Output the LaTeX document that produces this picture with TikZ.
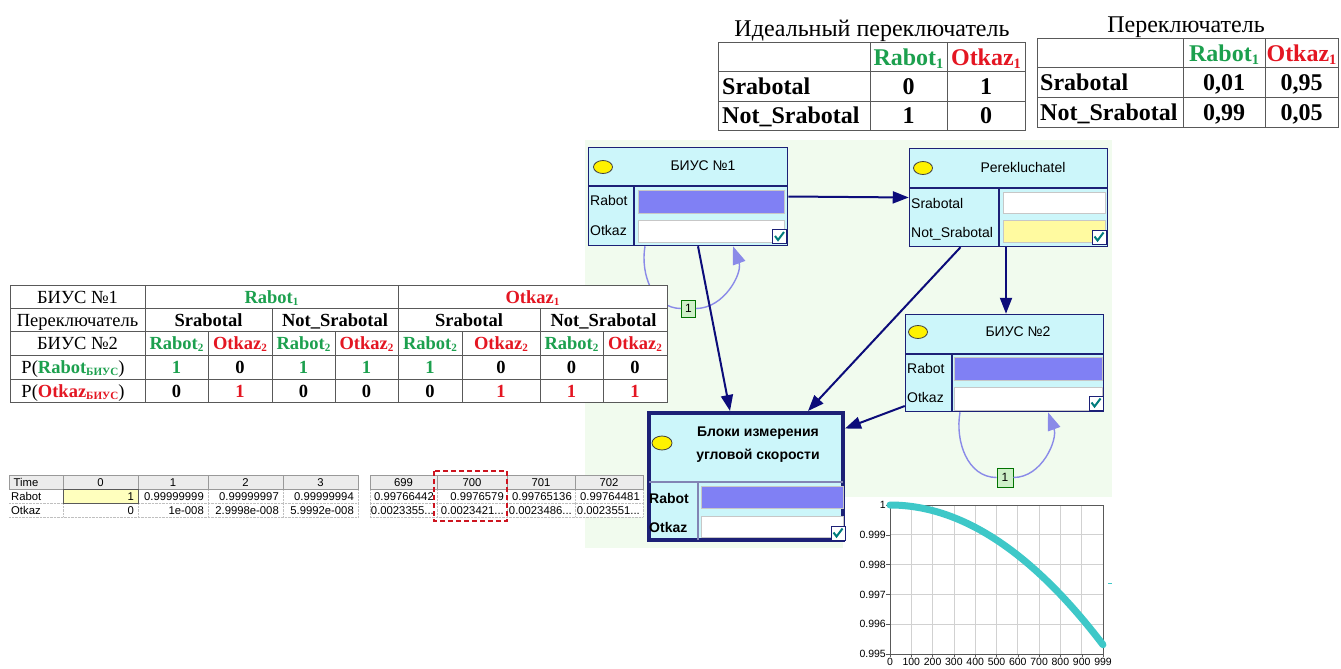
\documentclass[tikz,border=0pt]{standalone}
\usepackage{fontspec}
\setmainfont{Liberation Serif}
\newfontfamily\arialf{Liberation Sans}
\usetikzlibrary{arrows.meta}
\definecolor{okgreen}{RGB}{28,160,78}
\definecolor{failred}{RGB}{228,22,34}
\definecolor{netfill}{RGB}{204,246,250}
\definecolor{netline}{RGB}{28,32,118}
\definecolor{arrowblue}{RGB}{12,12,122}
\definecolor{loopblue}{RGB}{138,138,232}
\definecolor{barfill}{RGB}{128,128,244}
\definecolor{bgmint}{RGB}{241,251,238}
\definecolor{idxfill}{RGB}{206,240,200}
\definecolor{curvecyan}{RGB}{62,200,200}
\definecolor{checkteal}{RGB}{0,124,124}
\definecolor{hdrgray}{RGB}{236,236,236}
\definecolor{cellyellow}{RGB}{255,255,190}
\definecolor{switchyellow}{RGB}{255,250,160}
\newcommand{\idx}[1]{\raisebox{-0.12em}{\scalebox{0.6}{#1}}}
\newcommand{\trail}{...}
\tikzset{tickbox/.pic={
    \draw[netline, fill=white, line width=0.8pt] (-7,-7) rectangle (7,7);
    \draw[checkteal, line width=2pt] (-4.5,-0.5) -- (-1.5,3.5) -- (4.5,-4.5);
}}

\begin{document}
\begin{tikzpicture}[x=1pt, y=-1pt,
    ttitle/.style={font=\fontsize{24}{26}\selectfont, inner sep=0pt, anchor=base},
    bigtab/.style={font=\fontsize{24}{26}\selectfont\bfseries, inner sep=0pt, anchor=base},
    midtab/.style={font=\fontsize{18.5}{20}\selectfont, inner sep=0pt, anchor=base},
    midbold/.style={midtab, font=\fontsize{18.5}{20}\selectfont\bfseries},
    rule/.style={draw=black!65, line width=1pt},
    sheet/.style={font=\arialf\fontsize{11.3}{12}\selectfont, inner sep=0pt, anchor=base},
    netbox/.style={rectangle, draw=netline, fill=netfill, line width=1.5pt, inner sep=0pt},
    netlbl/.style={font=\arialf\fontsize{14}{16}\selectfont, inner sep=0pt, anchor=base west},
    nettitle/.style={font=\arialf\fontsize{14}{16}\selectfont, inner sep=0pt},
    bar/.style={draw=black!22, line width=0.8pt},
    bulb/.style={draw=black!75, fill=yellow, line width=0.8pt},
    arrow/.style={draw=arrowblue, line width=2pt, -{Triangle[length=16pt, width=12pt]}},
    loopline/.style={draw=loopblue, line width=1.4pt},
    looparrow/.style={loopline, -{Triangle[length=18pt, width=13pt]}},
    idxbox/.style={rectangle, draw=black!55!green, fill=idxfill, line width=0.8pt,
    inner sep=0pt, font=\arialf\fontsize{12}{12}\selectfont},
    axislbl/.style={font=\arialf\fontsize{10.5}{10.5}\selectfont, inner sep=0pt}
]
\useasboundingbox (0,0) rectangle (1341,669);
\fill[white] (0,0) rectangle (1341,669);
\fill[bgmint] (585,140) rectangle (1112,548);
\fill[white] (843,497) rectangle (1112,669);

% ideal switch
\node[ttitle] (idealttl) at (872,37) {Идеальный переключатель};
\draw[rule] (718,43) rectangle (1025,130) (718,72) -- (1025,72) (718,101) -- (1025,101)
    (870,43) -- (870,130) (947,43) -- (947,130);
\node[bigtab, text=okgreen] (id-rb) at (908.5,65.5) {Rabot\idx{1}};
\node[bigtab, text=failred] (id-ot) at (986,65.5) {Otkaz\idx{1}};
\node[bigtab, anchor=base west] (id-s) at (722,94.5) {Srabotal};
\node[bigtab, anchor=base west] (id-ns) at (722,123.5) {Not\_Srabotal};
\node[bigtab] (id-11) at (908.5,94.5) {0};
\node[bigtab] (id-12) at (986,94.5) {1};
\node[bigtab] (id-21) at (908.5,123.5) {1};
\node[bigtab] (id-22) at (986,123.5) {0};

% real switch
\node[ttitle] (realttl) at (1186,33) {Переключатель};
\draw[rule] (1037,39) rectangle (1338,127) (1037,68) -- (1338,68) (1037,97) -- (1338,97)
    (1183,39) -- (1183,127) (1265,39) -- (1265,127);
\node[bigtab, text=okgreen] (re-rb) at (1224,61.5) {Rabot\idx{1}};
\node[bigtab, text=failred] (re-ot) at (1301.5,61.5) {Otkaz\idx{1}};
\node[bigtab, anchor=base west] (re-s) at (1040,90.5) {Srabotal};
\node[bigtab, anchor=base west] (re-ns) at (1040,120) {Not\_Srabotal};
\node[bigtab] (re-11) at (1224,90.5) {0,01};
\node[bigtab] (re-12) at (1301.5,90.5) {0,95};
\node[bigtab] (re-21) at (1224,120) {0,99};
\node[bigtab] (re-22) at (1301.5,120) {0,05};

% network
\node[netbox, minimum width=199pt, minimum height=98pt] (biys1) at (688,196.5) {};
\node[netbox, minimum width=198pt, minimum height=98pt] (perek) at (1008.5,197.5) {};
\node[netbox, minimum width=198pt, minimum height=97pt] (biys2) at (1004.5,363) {};
\node[netbox, line width=4pt, minimum width=194pt, minimum height=127pt] (block) at (746,476.5) {};

\draw[netline, line width=1.2pt] (588,186) -- (788,186) (634,186) -- (634,246);
\draw[bulb] (603,167) ellipse [x radius=9.5, y radius=6.5];
\node[nettitle] (biys1ttl) at (703,166) {БИУС №1};
\node[netlbl] (biys1rb) at (590,205.5) {Rabot};
\node[netlbl] (biys1ot) at (590,235.5) {Otkaz};
\draw[bar, fill=barfill] (638,190) rectangle (784,213);
\draw[bar, fill=white] (638,220) rectangle (784,242);
\pic at (779.5,236.5) {tickbox};

\draw[netline, line width=1.2pt] (909,188) -- (1108,188) (999,188) -- (999,247);
\draw[bulb] (923,168) ellipse [x radius=9.5, y radius=6.5];
\node[nettitle] (perekttl) at (1023,167) {Perekluchatel};
\node[netlbl] (perekok) at (911,208) {Srabotal};
\node[netlbl] (pereknot) at (911,237) {Not\_Srabotal};
\draw[bar, fill=white] (1003,192) rectangle (1105,213);
\draw[bar, fill=switchyellow] (1003,220) rectangle (1105,242);
\pic at (1099,237) {tickbox};

\draw[netline, line width=1.2pt] (905,354) -- (1104,354) (952,354) -- (952,412);
\draw[bulb] (918,332) ellipse [x radius=9.5, y radius=6.5];
\node[nettitle] (biys2ttl) at (1018,332) {БИУС №2};
\node[netlbl] (biys2rb) at (907,373) {Rabot};
\node[netlbl] (biys2ot) at (907,402.5) {Otkaz};
\draw[bar, fill=barfill] (954,357) rectangle (1102,380);
\draw[bar, fill=white] (954,387) rectangle (1102,410);
\pic at (1096,403) {tickbox};

\draw[netline!55, line width=1.3pt] (649,482) -- (843,482) (698,482) -- (698,540);
\draw[bulb] (662,443) ellipse [x radius=10, y radius=7];
\node[nettitle, font=\arialf\bfseries\fontsize{14}{23}\selectfont, align=center] (blockttl)
    at (758,445) {Блоки измерения\\угловой скорости};
\node[netlbl, font=\arialf\bfseries\fontsize{14}{16}\selectfont] (blockrb) at (649,503) {Rabot};
\node[netlbl, font=\arialf\bfseries\fontsize{14}{16}\selectfont] (blockot) at (649,532) {Otkaz};
\draw[bar, fill=barfill] (701,486) rectangle (843,508);
\draw[bar, fill=white] (701,516) rectangle (843,537);
\pic at (838,533) {tickbox};

% time slices
\node[idxbox, minimum width=14pt, minimum height=17pt] (loop1) at (688.5,308.5) {1};
\draw[loopline] ([xshift=-43pt]biys1.south) to[out=-100, in=180] (loop1.west);
\draw[looparrow] (loop1.east) to[out=0, in=-70] ([xshift=45pt]biys1.south);
\node[idxbox, minimum width=16pt, minimum height=19pt] (loop2) at (1005,477.5) {1};
\draw[loopline] ([xshift=-44.5pt]biys2.south) to[out=-100, in=180] (loop2.west);
\draw[looparrow] (loop2.east) to[out=0, in=-70] ([xshift=43.5pt]biys2.south);

\draw[arrow] (biys1.east) -- (perek.west);
\draw[arrow] ([xshift=10pt]biys1.south) -- ([xshift=-16pt]block.north);
\draw[arrow] ([xshift=-48pt]perek.south) -- ([xshift=62pt]block.north);
\draw[arrow] ([xshift=-2.5pt]perek.south) -- ([xshift=1.5pt]biys2.north);
\draw[arrow] ([yshift=-43pt]biys2.west) -- ([yshift=48pt]block.east);

% conditional table
\fill[white] (10,285) rectangle (667,402);
\draw[rule] (10,285) rectangle (667,402);
\foreach \ry in {308,331,355,379} \draw[rule] (10,\ry) -- (667,\ry);
\foreach \cx in {145,398} \draw[rule] (\cx,285) -- (\cx,402);
\foreach \cx in {272,540} \draw[rule] (\cx,308) -- (\cx,402);
\foreach \cx in {208,335,462,603} \draw[rule] (\cx,331) -- (\cx,402);
\node[midtab] (t-r1) at (77.5,303) {БИУС №1};
\node[midbold, text=okgreen] (t-rb1) at (271.5,303) {Rabot\idx{1}};
\node[midbold, text=failred] (t-ok1) at (532.5,303) {Otkaz\idx{1}};
\node[midtab] (t-r2) at (77.5,326) {Переключатель};
\foreach \cx/\t [count=\i] in {208.5/Srabotal, 335/Not\_Srabotal, 469/Srabotal, 603.5/Not\_Srabotal}
    \node[midbold] (t-sw\i) at (\cx,326) {\t};
\node[midtab] (t-r3) at (77.5,349.5) {БИУС №2};
\foreach \cx/\c/\t [count=\i] in {176.5/okgreen/Rabot, 240/failred/Otkaz, 303.5/okgreen/Rabot,
    366.5/failred/Otkaz, 430/okgreen/Rabot, 501/failred/Otkaz, 571.5/okgreen/Rabot, 635/failred/Otkaz}
    \node[midbold, text=\c] (t-b\i) at (\cx,349.5) {\t\idx{2}};
\node[midtab] (t-r4) at (73,373.5) {P(\textcolor{okgreen}{\textbf{Rabot\idx{БИУС}}})};
\node[midtab] (t-r5) at (73,397) {P(\textcolor{failred}{\textbf{Otkaz\idx{БИУС}}})};
\foreach \cx/\v/\c [count=\i] in {176.5/1/okgreen, 240/0/black, 303.5/1/okgreen, 366.5/1/okgreen,
    430/1/okgreen, 501/0/black, 571.5/0/black, 635/0/black}
    \node[midbold, text=\c] (pr\i) at (\cx,373.5) {\v};
\foreach \cx/\v/\c [count=\i] in {176.5/0/black, 240/1/failred, 303.5/0/black, 366.5/0/black,
    430/0/black, 501/1/failred, 571.5/1/failred, 635/1/failred}
    \node[midbold, text=\c] (pf\i) at (\cx,397) {\v};

% simulation sheets
\fill[hdrgray] (9,475) rectangle (358,489);
\fill[cellyellow] (63,489) rectangle (138,503);
\foreach \cx in {63,138,208,283,358} \draw[black!25, densely dotted] (\cx,489) -- (\cx,517);
\draw[black!25, densely dotted] (9,503) -- (358,503) (9,517) -- (358,517);
\draw[black!40, line width=0.6pt] (9,475) rectangle (358,489);
\foreach \cx in {63,138,208,283} \draw[black!40, line width=0.6pt] (\cx,475) -- (\cx,489);
\draw[black!65, line width=0.8pt] (63,489) rectangle (138,503);
\node[sheet] (s-time) at (26,486) {Time};
\foreach \cx/\v [count=\i] in {100.5/0, 173/1, 245.5/2, 320.5/3}
    \node[sheet] (s-h\i) at (\cx,486) {\v};
\node[sheet, anchor=base west] (s-rb) at (11,500) {Rabot};
\node[sheet, anchor=base west] (s-ot) at (11,514) {Otkaz};
\foreach \cx/\v [count=\i] in {134/1, 204/0.99999999, 279/0.99999997, 354/0.99999994}
    \node[sheet, anchor=base east] (s-r\i) at (\cx,500) {\v};
\foreach \cx/\v [count=\i] in {134/0, 204/1e-008, 279/2.9998e-008, 354/5.9992e-008}
    \node[sheet, anchor=base east] (s-o\i) at (\cx,514) {\v};

\fill[white] (370,475) rectangle (643,517);
\fill[hdrgray] (370,475) rectangle (643,489);
\foreach \cx in {370,437,507,575,643} \draw[black!25, densely dotted] (\cx,489) -- (\cx,517);
\draw[black!25, densely dotted] (370,503) -- (643,503) (370,517) -- (643,517);
\draw[black!40, line width=0.6pt] (370,475) rectangle (643,489);
\foreach \cx in {437,507,575} \draw[black!40, line width=0.6pt] (\cx,475) -- (\cx,489);
\foreach \cx/\v [count=\i] in {403.5/699, 472/700, 541/701, 609/702}
    \node[sheet] (q-h\i) at (\cx,486) {\v};
\foreach \cx/\v [count=\i] in {434/0.99766442, 504/0.9976579, 572/0.99765136, 640/0.99764481}
    \node[sheet, anchor=base east] (q-r\i) at (\cx,500) {\v};
\foreach \cx/\v [count=\i] in {434/0.0023355\trail, 504/0.0023421\trail, 572/0.0023486\trail, 640/0.0023551\trail}
    \node[sheet, anchor=base east] (q-o\i) at (\cx,514) {\v};
\draw[failred!90!black, line width=2.5pt, dash pattern=on 5pt off 3pt] (434,471) rectangle (507,521);

% reliability chart
\foreach \k in {1,...,9} \draw[black!18, line width=0.8pt] ({890+21.3*\k},505) -- ({890+21.3*\k},654);
\foreach \k in {1,...,4} \draw[black!18, line width=0.8pt] (890,{505+29.8*\k}) -- (1103,{505+29.8*\k});
\draw[black!65, line width=1pt] (890,505) rectangle (1103,654);
\foreach \v [count=\k from 0] in {1,0.999,0.998,0.997,0.996,0.995} {
    \draw[black!65] (886,{505+29.8*\k}) -- (890,{505+29.8*\k});
    \node[axislbl, anchor=east] (ylab\k) at (886,{505+29.8*\k}) {\v};
}
\foreach \v [count=\k from 0] in {0,100,200,300,400,500,600,700,800,900,999} {
    \draw[black!65] ({890+21.3*\k},654) -- ({890+21.3*\k},657);
    \node[axislbl, anchor=north] (xlab\k) at ({890+21.3*\k},658) {\v};
}
\draw[curvecyan, line width=7pt, line cap=round] plot[domain=0:1, samples=50, smooth] ({890+213*\x},{505+139.8*\x*\x});
\draw[curvecyan, line width=1pt] (1108,583) -- (1112,583);
\end{tikzpicture}
\end{document}
